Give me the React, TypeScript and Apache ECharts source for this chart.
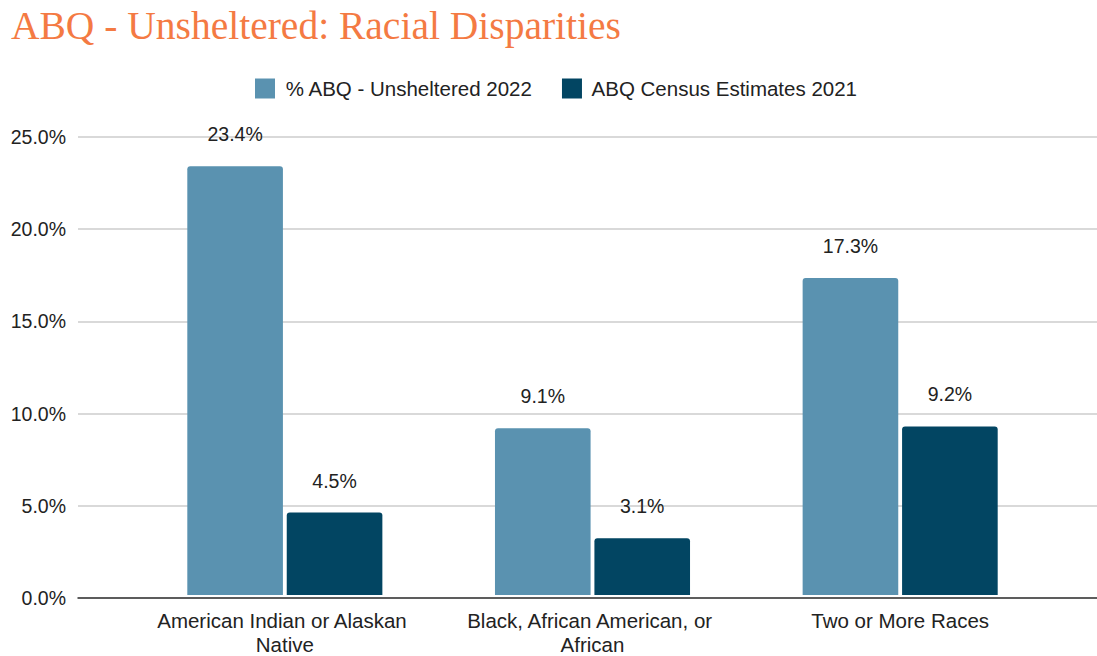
import React, { useEffect, useRef } from "react";
import * as echarts from "echarts";

const categories = [
  "American Indian or Alaskan Native",
  "Black, African American, or African",
  "Two or More Races",
];
const unsheltered2022 = [23.4, 9.1, 17.3];
const census2021 = [4.5, 3.1, 9.2];
const seriesNames = ["% ABQ - Unsheltered 2022", "ABQ Census Estimates 2021"];
const titleText = "ABQ - Unsheltered: Racial Disparities";

export default function App() {
  const ref = useRef<HTMLDivElement>(null);
  useEffect(() => {
    if (!ref.current) return;
    const chart = echarts.init(ref.current, null, { renderer: "svg" });
    const font = "'Liberation Sans', Arial, sans-serif";
    const fs = 19.5;
    const valueLabel = {
      show: true,
      position: "top",
      distance: 22,
      fontFamily: font,
      fontSize: fs,
      color: "#222222",
      formatter: (p: any) => Number(p.value).toFixed(1) + "%",
    };
    chart.setOption({
      animation: false,
      backgroundColor: "#ffffff",
      title: {
        text: titleText,
        left: 6,
        top: 1,
        textStyle: {
          fontFamily: "'Liberation Serif', 'DejaVu Serif', serif",
          fontWeight: "normal",
          fontSize: 39.5,
          color: "#f47a43",
        },
      },
      legend: {
        top: 73,
        left: 250,
        itemWidth: 20,
        itemHeight: 20,
        itemGap: 29,
        icon: "rect",
        formatter: (name: string) => " " + name,
        textStyle: { fontFamily: font, fontSize: 20.5, color: "#222222" },
        data: seriesNames,
      },
      grid: [
        { left: 131, right: 43, top: 137, bottom: 58 },
        { left: 78, right: 0, top: 137, bottom: 58 },
      ],
      xAxis: [
        {
          type: "category",
          gridIndex: 0,
          data: categories,
          axisLine: { show: false },
          axisTick: { show: false },
          axisLabel: {
            fontFamily: font,
            fontSize: 20.5,
            color: "#222222",
            margin: 13,
            lineHeight: 24,
            width: 280,
            overflow: "break",
            interval: 0,
          },
        },
        {
          type: "category",
          gridIndex: 1,
          data: ["a"],
          axisLine: { show: true, lineStyle: { color: "#333333", width: 1.5 } },
          axisTick: { show: false },
          axisLabel: { show: false },
        },
      ],
      yAxis: [
        { type: "value", gridIndex: 0, min: 0, max: 25, interval: 5, show: false },
        {
          type: "value",
          gridIndex: 1,
          min: 0,
          max: 25,
          interval: 5,
          axisLine: { show: false },
          axisTick: { show: false },
          splitLine: { lineStyle: { color: "#cccccc", width: 1.5 } },
          axisLabel: {
            fontFamily: font,
            fontSize: fs,
            color: "#222222",
            margin: 12,
            formatter: (v: number) => v.toFixed(1) + "%",
          },
        },
      ],
      series: [
        {
          name: seriesNames[0],
          type: "bar",
          xAxisIndex: 0,
          yAxisIndex: 0,
          data: unsheltered2022,
          barCategoryGap: "36.6%",
          barGap: "4%",
          itemStyle: { color: "#5a92b0", borderRadius: [3, 3, 0, 0] },
          label: valueLabel,
          z: 3,
        },
        {
          name: seriesNames[1],
          type: "bar",
          xAxisIndex: 0,
          yAxisIndex: 0,
          data: census2021,
          barCategoryGap: "36.6%",
          barGap: "4%",
          itemStyle: { color: "#024562", borderRadius: [3, 3, 0, 0] },
          label: valueLabel,
          z: 3,
        },
      ],
    });
    return () => chart.dispose();
  }, []);
  return (
    <div
      ref={ref}
      style={{ position: "absolute", left: 0, top: 0, width: 1097, height: 656 }}
    />
  );
}
